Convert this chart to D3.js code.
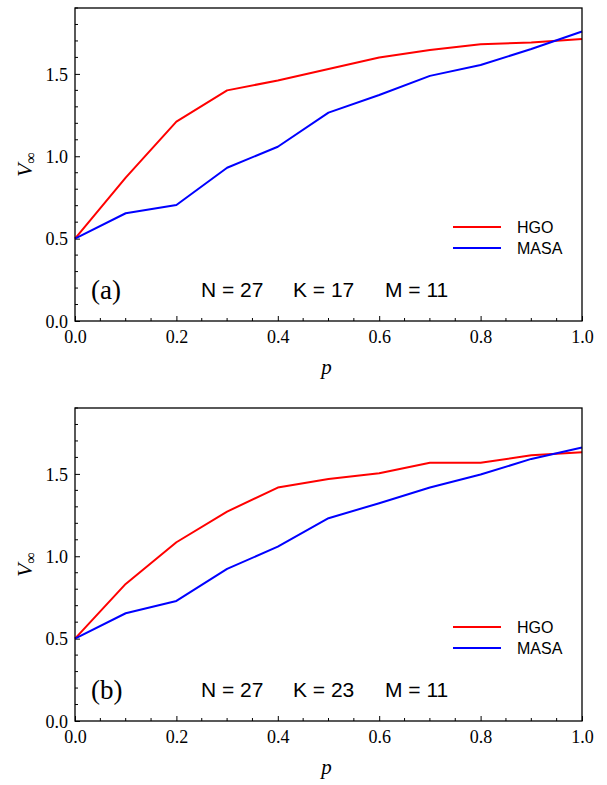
<!DOCTYPE html>
<html><head><meta charset="utf-8">
<script src="https://cdn.jsdelivr.net/npm/d3@7"></script>
<style>body{margin:0;background:#fff}svg{display:block}
.serif{font-family:"Liberation Serif","Times New Roman",serif}
.sans{font-family:"Liberation Sans",Arial,sans-serif}
</style>
</head><body>
<svg id="chart" width="607" height="785"></svg>
<script>
const pValues = [0, 0.1, 0.2, 0.3, 0.4, 0.5, 0.6, 0.7, 0.8, 0.9, 1.0];
const hgoA  = [0.50, 0.87, 1.21, 1.40, 1.46, 1.53, 1.60, 1.645, 1.68, 1.69, 1.712];
const masaA = [0.50, 0.654, 0.704, 0.93, 1.058, 1.265, 1.372, 1.488, 1.554, 1.651, 1.757];
const hgoB  = [0.50, 0.832, 1.085, 1.271, 1.417, 1.469, 1.504, 1.568, 1.568, 1.613, 1.631];
const masaB = [0.50, 0.654, 0.729, 0.923, 1.058, 1.231, 1.322, 1.417, 1.496, 1.591, 1.66];
const xTicks = [0, 0.2, 0.4, 0.6, 0.8, 1.0];
const yTicks = [0, 0.5, 1.0, 1.5];
const seriesNames = ["HGO", "MASA"];
const seriesColors = ["#ff0000", "#0000ff"];
const panels = [
  {label: "(a)", N: 27, K: 17, M: 11, series: [hgoA, masaA], top: 8},
  {label: "(b)", N: 27, K: 23, M: 11, series: [hgoB, masaB], top: 408}
];

const svg = d3.select("#chart");
const left = 75, right = 582, h = 313;

panels.forEach(pn => {
  const top = pn.top, bottom = top + h;
  const x = d3.scaleLinear().domain([0, 1]).range([left, right]);
  const y = d3.scaleLinear().domain([0, 1.9]).range([bottom, top]);
  const g = svg.append("g");

  const xMinor = d3.range(0, 1.0001, 0.05).filter(v => Math.abs(v / 0.2 - Math.round(v / 0.2)) > 1e-6);
  const yMinor = d3.range(0, 1.9001, 0.1).filter(v => Math.abs(v / 0.5 - Math.round(v / 0.5)) > 1e-6);
  g.selectAll(".xmin").data(xMinor).enter().append("line")
    .attr("x1", d => x(d)).attr("x2", d => x(d)).attr("y1", bottom).attr("y2", bottom - 3)
    .attr("stroke", "#000").attr("stroke-width", 1);
  g.selectAll(".ymin").data(yMinor).enter().append("line")
    .attr("x1", left).attr("x2", left + 3).attr("y1", d => y(d)).attr("y2", d => y(d))
    .attr("stroke", "#000").attr("stroke-width", 1);

  const xAxis = g.append("g").attr("transform", `translate(0,${bottom})`)
    .call(d3.axisBottom(x).tickValues(xTicks).tickFormat(d3.format(".1f")).tickSizeInner(-5).tickSizeOuter(0).tickPadding(9));
  const yAxis = g.append("g").attr("transform", `translate(${left},0)`)
    .call(d3.axisLeft(y).tickValues(yTicks).tickFormat(d3.format(".1f")).tickSizeInner(-5).tickSizeOuter(0).tickPadding(7));
  [xAxis, yAxis].forEach(a => {
    a.attr("font-family", null).attr("font-size", null);
    a.selectAll("text").attr("class", "serif").style("font-size", "18px").style("fill", "#000");
    a.selectAll("line").attr("stroke", "#000");
    a.select(".domain").remove();
  });
  yAxis.selectAll("text").attr("dy", "0.34em");

  const line = d3.line().x((d, i) => x(pValues[i])).y(d => y(d));
  pn.series.forEach((s, i) => {
    g.append("path").datum(s).attr("d", line).attr("fill", "none")
      .attr("stroke", seriesColors[i]).attr("stroke-width", 2).attr("stroke-linejoin", "round");
  });

  g.append("rect").attr("x", left).attr("y", top).attr("width", right - left).attr("height", h)
    .attr("fill", "none").attr("stroke", "#000").attr("stroke-width", 1.3);

  seriesNames.forEach((nm, i) => {
    const ly = bottom - 94 + i * 21;
    g.append("line").attr("x1", 453).attr("x2", 501).attr("y1", ly).attr("y2", ly)
      .attr("stroke", seriesColors[i]).attr("stroke-width", 2);
    g.append("text").attr("x", 517).attr("y", ly + 5.5).text(nm)
      .attr("class", "sans").style("font-size", "16px").style("fill", "#000");
  });

  g.append("text").attr("x", 91).attr("y", bottom - 22).text(pn.label)
    .attr("class", "serif").style("font-size", "27px").style("fill", "#000");
  [["N = " + pn.N, 201], ["K = " + pn.K, 293], ["M = " + pn.M, 385]].forEach(([t, xx]) => {
    g.append("text").attr("x", xx).attr("y", bottom - 24).text(t)
      .attr("class", "sans").style("font-size", "21px").style("fill", "#000");
  });

  g.append("text").attr("x", (left + right) / 2 - 2).attr("y", bottom + 53).text("p")
    .attr("class", "serif").style("font-style", "italic").style("font-size", "21px")
    .attr("text-anchor", "middle").style("fill", "#000");
  const yt = g.append("text").attr("transform", `translate(32,${(top + bottom) / 2}) rotate(-90)`)
    .attr("text-anchor", "middle").attr("class", "serif").style("font-size", "22px").style("fill", "#000");
  yt.append("tspan").style("font-style", "italic").text("V");
  yt.append("tspan").style("font-size", "16px").attr("dy", 4).text("∞");
});
</script>
</body></html>
